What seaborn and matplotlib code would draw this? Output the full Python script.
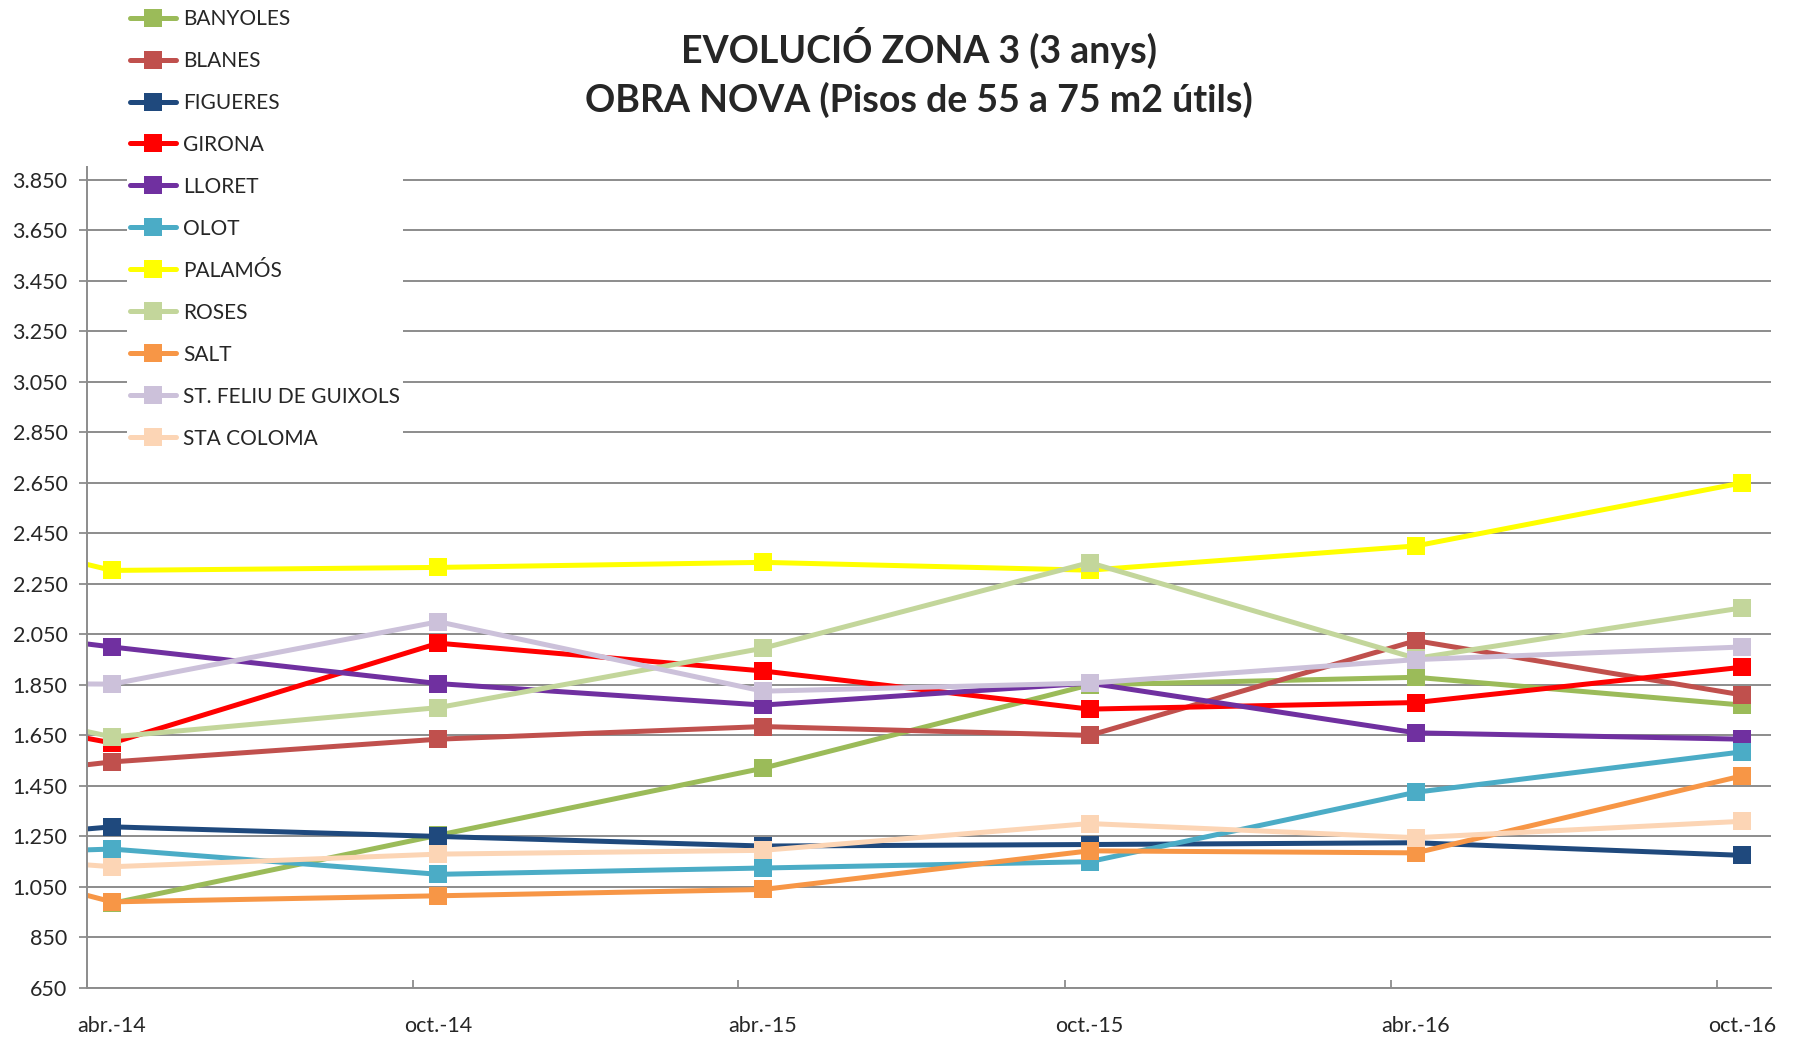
import pandas as pd
import matplotlib
matplotlib.use('Agg')
import matplotlib.pyplot as plt
import matplotlib.dates as mdates
from matplotlib.lines import Line2D
from matplotlib.ticker import FuncFormatter
import seaborn as sns

# Data (semesters; the oct.-13 point sits just left of the visible axis)
dates = ['2013-10-15', '2014-04-15', '2014-10-15', '2015-04-15',
         '2015-10-15', '2016-04-15', '2016-10-15']
x_labels = ['abr.-14', 'oct.-14', 'abr.-15', 'oct.-15', 'abr.-16', 'oct.-16']
tick_dates = ['2014-04-01', '2014-10-01', '2015-04-01', '2015-10-01',
              '2016-04-01', '2016-10-01']

cities = ['BANYOLES', 'BLANES', 'FIGUERES', 'GIRONA', 'LLORET', 'OLOT',
          'PALAMÓS', 'ROSES', 'SALT', 'ST. FELIU DE GUIXOLS', 'STA COLOMA']

banyoles = [None, 985, 1255, 1520, 1850, 1880, 1770]
blanes = [1400, 1545, 1635, 1685, 1650, 2025, 1810]
figueres = [1180, 1288, 1250, 1212, 1218, 1225, 1175]
girona = [1860, 1620, 2015, 1905, 1754, 1780, 1920]
lloret = [2156, 2000, 1855, 1770, 1857, 1660, 1635]
olot = [1160, 1200, 1100, 1125, 1150, 1425, 1585]
palamos = [2615, 2303, 2315, 2335, 2304, 2400, 2650]
roses = [1920, 1644, 1760, 1995, 2334, 1955, 2155]
salt = [1327, 991, 1015, 1040, 1193, 1185, 1490]
st_feliu = [1860, 1853, 2100, 1825, 1857, 1950, 2000]
sta_coloma = [1225, 1130, 1180, 1195, 1301, 1245, 1310]

colors = ['#9BBB59', '#C0504D', '#1F497D', '#FF0000', '#7030A0', '#4BACC6',
          '#FFFF00', '#C3D69B', '#F79646', '#CCC1DA', '#FCD5B5']

series = [banyoles, blanes, figueres, girona, lloret, olot,
          palamos, roses, salt, st_feliu, sta_coloma]

rows = []
for city, vals in zip(cities, series):
    for d, v in zip(dates, vals):
        if v is not None:
            rows.append({'data': pd.Timestamp(d), 'ciutat': city, 'preu': v})
df = pd.DataFrame(rows)

# Style
sns.set_style('white')
plt.rcParams['font.family'] = ['Lato', 'DejaVu Sans']
grid_col = '#8C8C8C'
lw = 3.6
ms = 13

fig = plt.figure(figsize=(17.93, 10.40), dpi=100)
ax = fig.add_axes([0.0485, 0.05, 0.9392, 0.7894])

sns.lineplot(data=df, x='data', y='preu', hue='ciutat', hue_order=cities,
             palette=colors, marker='s', markersize=ms, markeredgewidth=0,
             linewidth=lw, errorbar=None, legend=False, ax=ax)

# Axes
ax.set_xlim(mdates.date2num(pd.Timestamp('2014-04-01')),
            mdates.date2num(pd.Timestamp('2016-10-31')))
ax.set_ylim(650, 3900)
ax.set_yticks(range(650, 3851, 200))
ax.yaxis.set_major_formatter(FuncFormatter(lambda v, p: f'{v:,.0f}'.replace(',', '.')))

ax.set_xticks([mdates.date2num(pd.Timestamp(d)) for d in tick_dates])
ax.set_xticklabels([''] * len(tick_dates))
ax.set_xticks([mdates.date2num(pd.Timestamp(d)) for d in dates[1:]], minor=True)
ax.set_xticklabels(x_labels, minor=True)

ax.set_xlabel('')
ax.set_ylabel('')
ax.yaxis.grid(True, color=grid_col, linewidth=1.4)
ax.xaxis.grid(False)
ax.set_axisbelow(True)

for s in ['top', 'right']:
    ax.spines[s].set_visible(False)
for s in ['left', 'bottom']:
    ax.spines[s].set_color(grid_col)
    ax.spines[s].set_linewidth(1.4)

ax.tick_params(axis='y', which='major', length=6, width=1.3, color=grid_col,
               labelsize=15.5, pad=8, left=True)
ax.tick_params(axis='x', which='major', length=6, width=1.3, color=grid_col,
               direction='in', bottom=True)
ax.tick_params(axis='x', which='minor', length=0, labelsize=15.5, pad=20)

# Title
fig.text(0.5125, 0.930, 'EVOLUCIÓ ZONA 3 (3 anys)\nOBRA NOVA (Pisos de 55 a 75 m2 útils)',
         ha='center', va='center', fontsize=27, fontweight='bold', linespacing=1.43)

# Legend
handles = [Line2D([0], [0], color=c, linewidth=lw, marker='s', markersize=ms,
                  markeredgewidth=0) for c in colors]
fig.legend(handles, cities, loc='upper left', bbox_to_anchor=(0.0708, 0.9945),
           borderaxespad=0, borderpad=0.15, fontsize=15, handlelength=2.2,
           handletextpad=0.35, labelspacing=1.055, frameon=True, fancybox=False,
           facecolor='white', edgecolor='none', framealpha=1)

plt.savefig('out.png', dpi=100)
plt.close()
